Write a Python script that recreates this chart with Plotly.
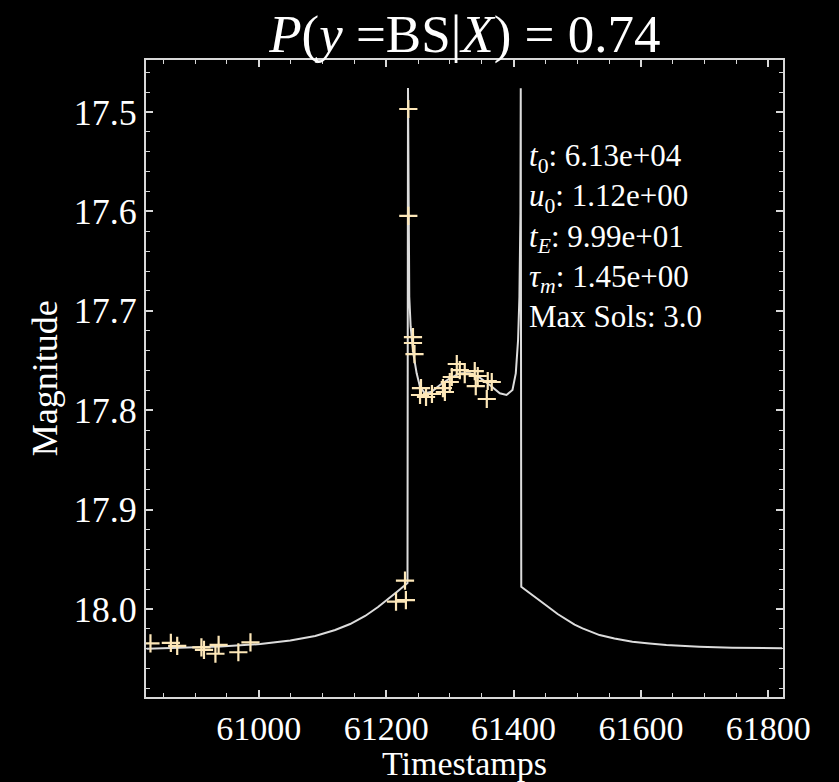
import plotly.graph_objects as go

# Observed photometry (timestamp, magnitude)
obs_time = [
    60830, 60862, 60872, 60910, 60914, 60937, 60932, 60968, 60987,
    61215.5, 61231, 61229.6,
    61234.8, 61234.8,
    61242.1, 61242.1, 61244.5, 61254.7, 61253.2, 61262.6, 61271.9,
    61289.1, 61292.2, 61299.9, 61303.1, 61310.9, 61315.6, 61323.4,
    61339.1, 61343.8, 61340.7, 61359.5, 61365.8, 61358.0,
]
obs_mag = [
    18.0345, 18.034, 18.037, 18.0385, 18.041, 18.036, 18.045, 18.0435, 18.0335,
    17.9926, 17.991, 17.9715,
    17.497, 17.6046,
    17.7264, 17.7324, 17.7435, 17.7777, 17.7847, 17.7867, 17.7837,
    17.7777, 17.7817, 17.7716, 17.7666, 17.7535, 17.7596, 17.7636,
    17.7606, 17.7656, 17.7757, 17.7706, 17.7716, 17.7887,
]

# Best-fit model light curve
model_time = [
    60823.9, 60877.2, 60939.9, 61002.5, 61049.5, 61088.6, 61119.9, 61143.5,
    61167.0, 61187.3, 61206.0, 61218.6, 61228.0, 61233.5,
    61234.3, 61235.1, 61235.9, 61236.3, 61238.5, 61242.6, 61247.9,
    61253.1, 61260.9, 61271.4, 61284.4, 61300.0, 61315.7, 61331.4, 61347.0,
    61362.7, 61378.4, 61388.9, 61398.3, 61403.5, 61407.1, 61409.2, 61410.8,
    61411.3,
    61412.1, 61420.7, 61430.1, 61442.6, 61456.7, 61469.2, 61483.3, 61495.8,
    61508.3, 61522.4, 61535.0, 61558.4, 61586.6, 61613.3, 61639.9, 61691.6,
    61743.3, 61821.6,
]
model_mag = [
    18.0399, 18.0392, 18.0377, 18.0352, 18.0317, 18.0272, 18.0211, 18.0151,
    18.0070, 17.9980, 17.9889, 17.9819, 17.9769, 17.9738,
    17.4759, 17.5380, 17.6190, 17.6858, 17.7160, 17.7428, 17.7629,
    17.7764, 17.7830, 17.7814, 17.7746, 17.7679, 17.7629, 17.7629, 17.7673,
    17.7746, 17.7830, 17.7847, 17.7797, 17.7629, 17.7294, 17.6858, 17.6019,
    17.4761,
    17.9776, 17.9819, 17.9859, 17.9924, 17.9990, 18.0050, 18.0111, 18.0156,
    18.0194, 18.0231, 18.0262, 18.0297, 18.0329, 18.0347, 18.0362, 18.0379,
    18.0389, 18.0395,
]

x_ticks = [61000, 61200, 61400, 61600, 61800]
y_ticks = [17.5, 17.6, 17.7, 17.8, 17.9, 18.0]

params_text = (
    "<i>t</i><sub>0</sub>: 6.13e+04<br>"
    "<i>u</i><sub>0</sub>: 1.12e+00<br>"
    "<i>t</i><sub><i>E</i></sub>: 9.99e+01<br>"
    "<i>τ</i><sub><i>m</i></sub>: 1.45e+00<br>"
    "Max Sols: 3.0"
)

FONT = "Liberation Serif"
AX = "#d8d8d8"

fig = go.Figure()
fig.add_trace(go.Scatter(
    x=model_time, y=model_mag, mode="lines",
    line=dict(color="#dcdcdc", width=2), showlegend=False,
))
fig.add_trace(go.Scatter(
    x=obs_time, y=obs_mag, mode="markers",
    marker=dict(symbol="cross-thin", size=13, color="#fde7b8",
                line=dict(color="#fde7b8", width=2.2)),
    showlegend=False,
))

axis_common = dict(
    showgrid=False, zeroline=False, showline=True, linecolor=AX, linewidth=2,
    mirror="allticks", ticks="inside", ticklen=7, tickwidth=1.5, tickcolor=AX,
    automargin=False,
)

fig.update_xaxes(
    range=[60823, 61823], tickvals=x_ticks, ticktext=[str(v) for v in x_ticks],
    tickfont=dict(family=FONT, size=34, color="white"),
    minor=dict(dtick=50, tick0=61000, ticks="inside", ticklen=4, tickcolor=AX, tickwidth=1.2),
    **axis_common,
)
fig.update_yaxes(
    range=[18.0885, 17.4477], tickvals=y_ticks, ticktext=[f"{v:.1f}" for v in y_ticks],
    tickfont=dict(family=FONT, size=36, color="white"),
    minor=dict(dtick=0.02, tick0=17.5, ticks="inside", ticklen=4, tickcolor=AX, tickwidth=1.2),
    **axis_common,
)

# Axis titles placed as annotations for precise spacing
fig.add_annotation(
    text="Timestamps", xref="paper", yref="paper", x=0.5, y=-0.105,
    xanchor="center", yanchor="middle", showarrow=False,
    font=dict(family=FONT, size=34, color="white"),
)
fig.add_annotation(
    text="Magnitude", xref="paper", yref="paper", x=-0.159, y=0.5,
    xanchor="center", yanchor="middle", showarrow=False, textangle=-90,
    font=dict(family=FONT, size=36, color="white"),
)

fig.add_annotation(
    text=params_text, xref="paper", yref="paper", x=0.598, y=0.88,
    xanchor="left", yanchor="top", align="left", showarrow=False,
    font=dict(family=FONT, size=31, color="white"),
)

fig.update_layout(
    width=839, height=782,
    margin=dict(l=146, r=56, t=60, b=85),
    paper_bgcolor="black", plot_bgcolor="black",
    title=dict(
        text="<i>P</i>(<i>y</i> =BS|<i>X</i>) = 0.74",
        font=dict(family=FONT, size=53, color="white"),
        x=0.554, xanchor="center", y=0.957, yanchor="middle",
    ),
)

fig.write_html("out.html")
